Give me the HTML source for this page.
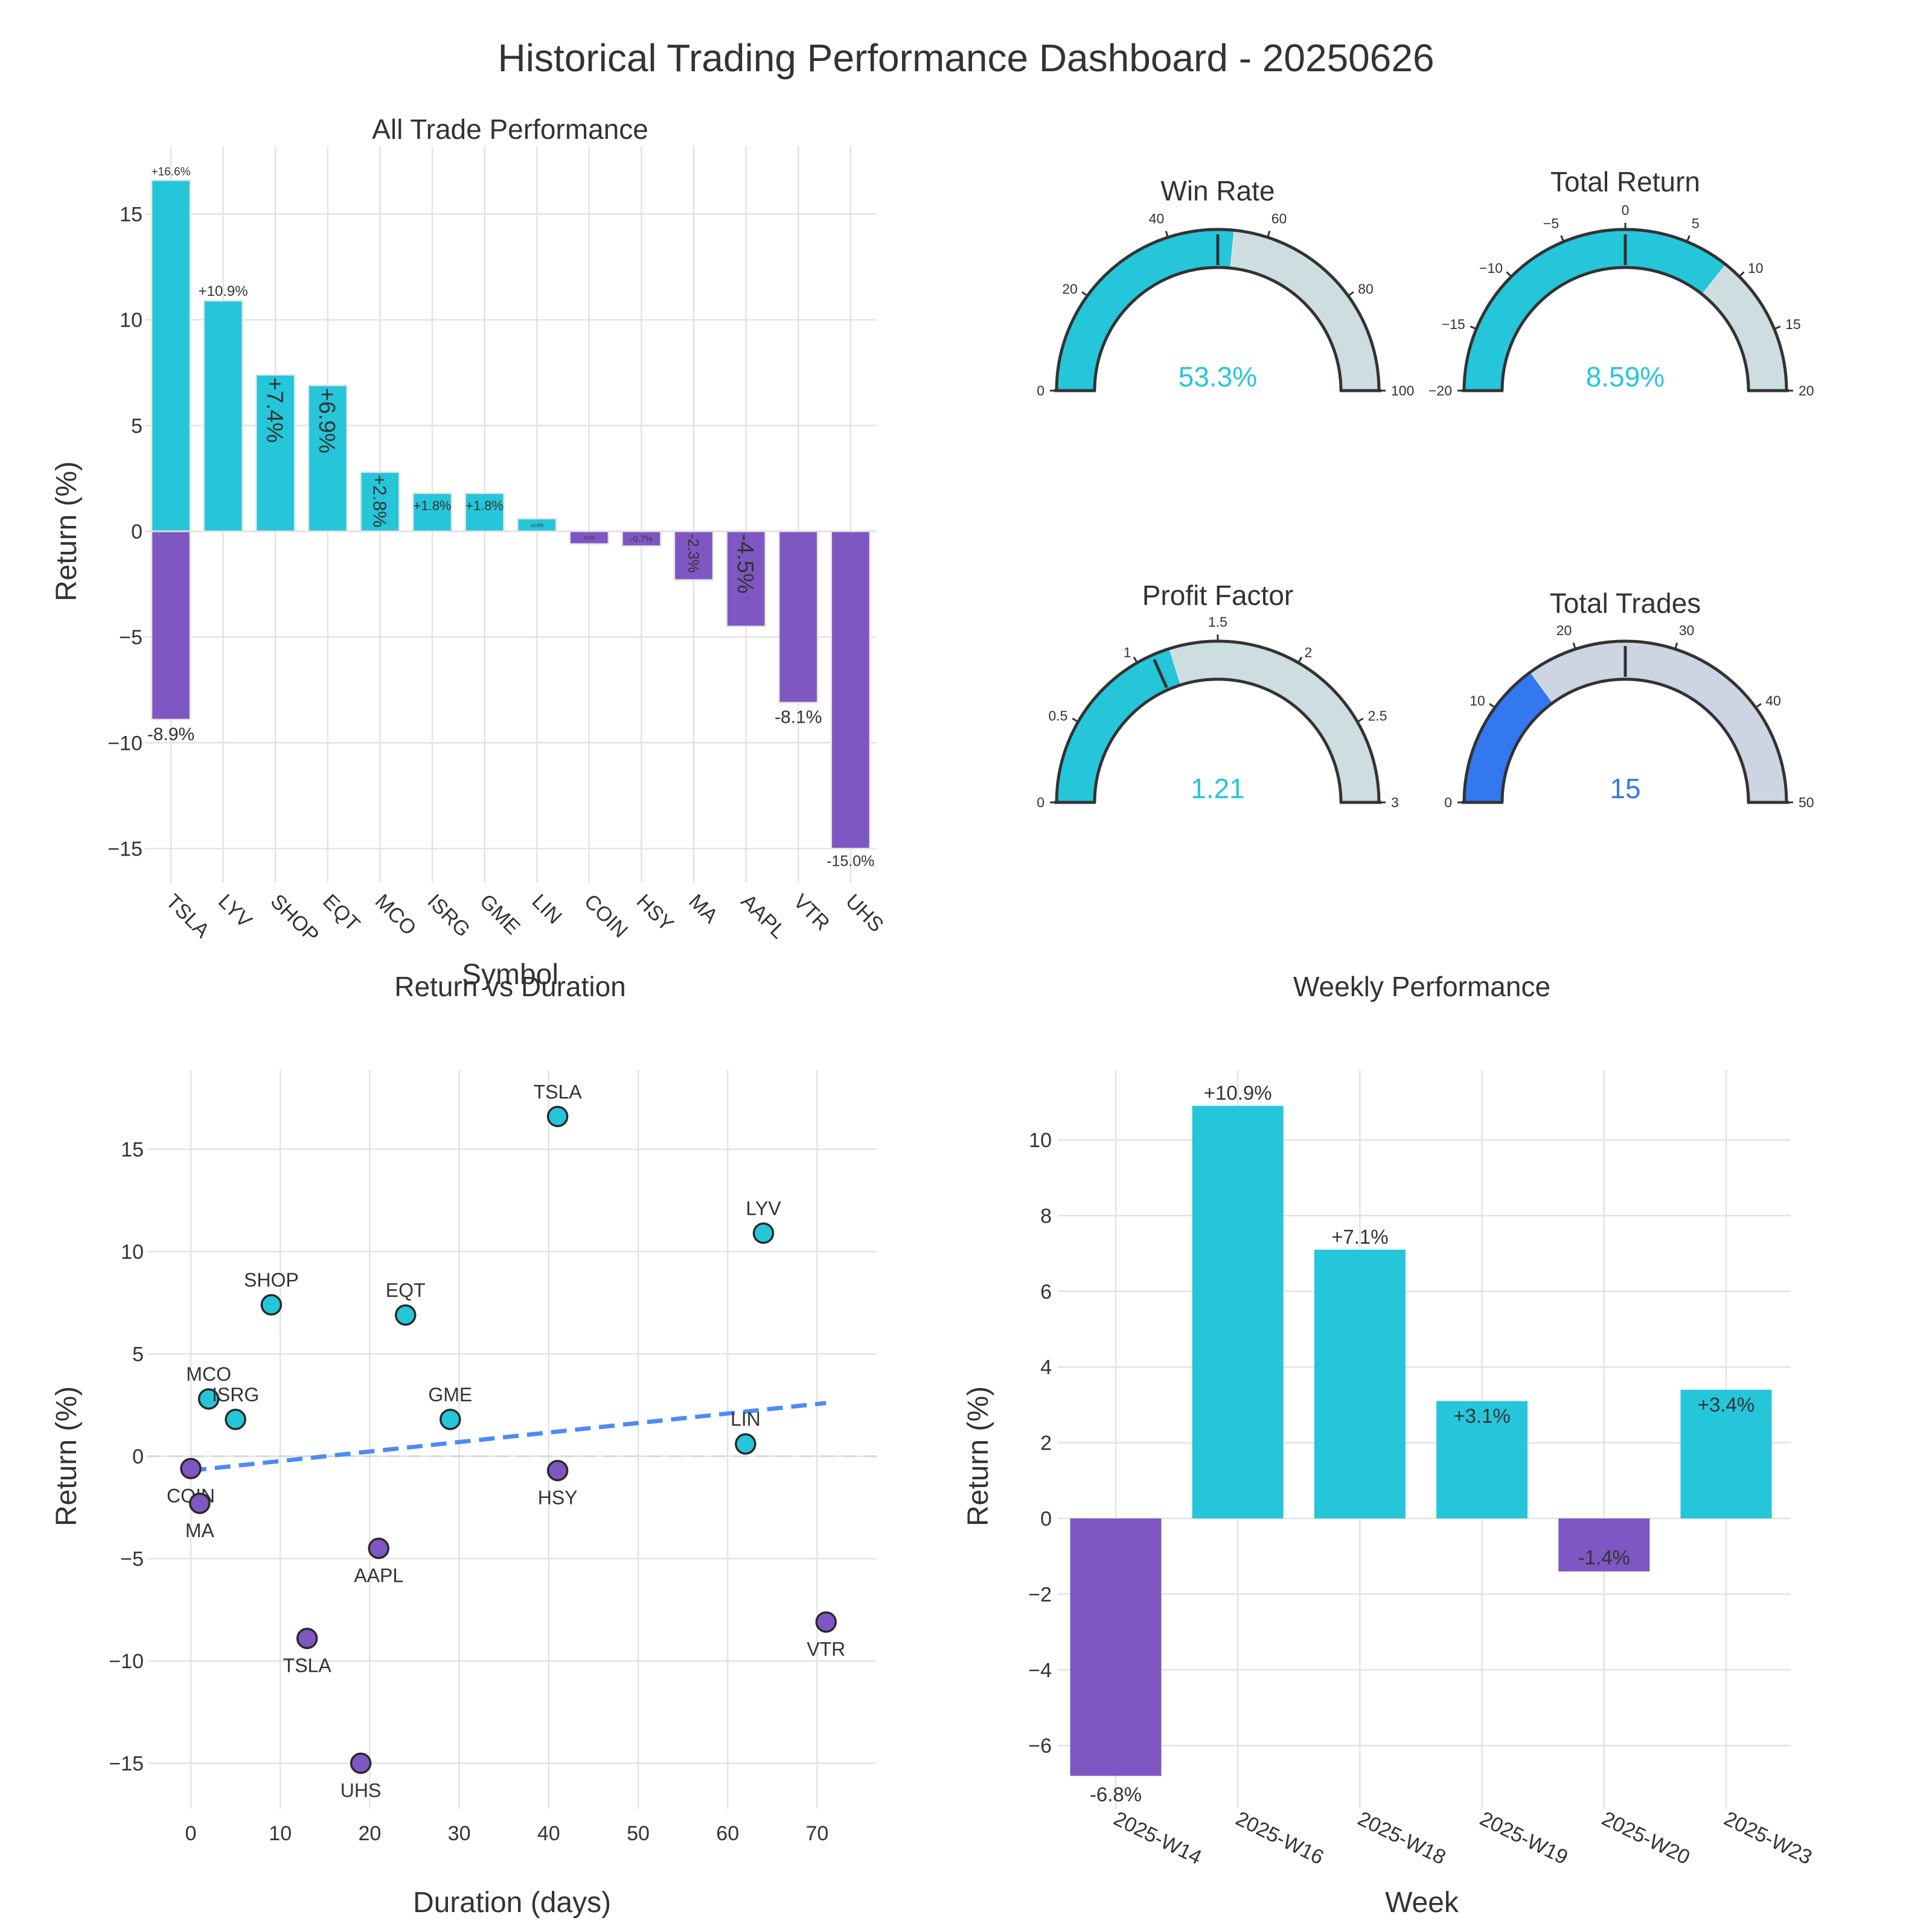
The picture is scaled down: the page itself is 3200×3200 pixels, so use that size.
<!DOCTYPE html>
<html><head><meta charset="utf-8">
<style>
html,body{margin:0;padding:0;background:#fff;}
svg{display:block;font-family:"Liberation Sans",Arial,sans-serif;}
</style></head>
<body>
<svg id="chart" width="3200" height="3200" viewBox="0 0 3200 3200" xmlns="http://www.w3.org/2000/svg">
<rect width="3200" height="3200" fill="#fff"/>
<text x="1600" y="118" text-anchor="middle" font-size="64" style="fill:#333">Historical Trading Performance Dashboard - 20250626</text>
</svg>
<script>
// ---- Data ----
const tradeSymbols = ["TSLA","TSLA","LYV","SHOP","EQT","MCO","ISRG","GME","LIN","COIN","HSY","MA","AAPL","VTR","UHS"];
const tradeReturns = [16.6,-8.9,10.9,7.4,6.9,2.8,1.8,1.8,0.6,-0.6,-0.7,-2.3,-4.5,-8.1,-15.0];
const tradeDurations = [41,13,64,9,24,2,5,29,62,0,41,1,21,71,19];
const barCategories = ["TSLA","LYV","SHOP","EQT","MCO","ISRG","GME","LIN","COIN","HSY","MA","AAPL","VTR","UHS"];
const barTicks = [-15,-10,-5,0,5,10,15];
const scatterXTicks = [0,10,20,30,40,50,60,70];
const scatterYTicks = [-15,-10,-5,0,5,10,15];
const trendStart = [0,-0.7];
const trendEnd = [71,2.6];
const weeks = ["2025-W14","2025-W16","2025-W18","2025-W19","2025-W20","2025-W23"];
const weeklyReturns = [-6.8,10.9,7.1,3.1,-1.4,3.4];
const weeklyTicks = [-6,-4,-2,0,2,4,6,8,10];
const gaugeTitles = ["Win Rate","Total Return","Profit Factor","Total Trades"];
const gaugeValues = [53.3,8.59,1.21,15];
const gaugeMins = [0,-20,0,0];
const gaugeMaxs = [100,20,3,50];
const gaugeThresholds = [50,0,1.1,25];
const gaugeTickLabels = [["0","20","40","60","80","100"],["-20","-15","-10","-5","0","5","10","15","20"],["0","0.5","1","1.5","2","2.5","3"],["0","10","20","30","40","50"]];
const gaugeValueText = ["53.3%","8.59%","1.21","15"];

const CYAN="#26C6DA", PURPLE="#7E57C2", GRID="#e3e3e3", TXT="#333";
const TICK=34, AXT=48, SUBT=46;
const svg=document.getElementById('chart');
const NS="http://www.w3.org/2000/svg";
function mk(tag,attrs,parent){const e=document.createElementNS(NS,tag);for(const k in attrs)e.setAttribute(k,attrs[k]);(parent||svg).appendChild(e);return e;}
function txt(s,attrs,parent){const e=mk('text',attrs,parent);e.textContent=s;return e;}

// ---------- Panel 1: All Trade Performance ----------
(function(){
  const g=mk('g',{});
  
  
  const L=240,R=1452,T=242,B=1462;
  const xc=i=>283+86.6*i;
  const y=v=>880-35.03*v;
  barTicks.forEach(t=>{
    const l=mk('line',{x1:L,x2:R,y1:y(t),y2:y(t),stroke:GRID,'stroke-width':2.5},g);
    
    
    const tl=txt(t<0?'\u2212'+(-t):String(t),{x:L-4,y:y(t)+12,'text-anchor':'end','font-size':TICK,fill:TXT},g);
    
    
  });
  barCategories.forEach((c,i)=>{
    const l=mk('line',{x1:xc(i),x2:xc(i),y1:T,y2:B,stroke:GRID,'stroke-width':2.5},g);
    
    
    const t=txt(c,{x:0,y:0,'font-size':TICK,fill:TXT,transform:`translate(${xc(i)-10},${1495}) rotate(45)`},g);
    
    
  });
  const bw=64;
  tradeReturns.forEach((v,k)=>{
    const i=barCategories.indexOf(tradeSymbols[k]);
    const x0=xc(i)-bw/2, yt=Math.min(y(v),y(0)), h=Math.abs(y(v)-y(0));
    const r=mk('rect',{x:x0,y:yt,width:bw,height:h,fill:v>=0?CYAN:PURPLE,stroke:'#e6e6e6','stroke-width':2.5},g);
    
    
    const lab=(v>=0?'+':'')+v.toFixed(1)+'%';
    const a=Math.abs(v);
    let t;
    if(a>=8){
      const fs=v>0?(a>15?19:24):(a>12?25:30);
      t=txt(lab,{x:xc(i),y:v>0?y(v)-8:y(v)+fs+4,'text-anchor':'middle','font-size':fs,fill:TXT},g);
    } else if(a>=2.2){
      const fs=Math.min(38,(h-6)/3.0);
      t=txt(lab,{x:0,y:0,'font-size':fs,fill:TXT,transform:`translate(${xc(i)-fs*0.36},${yt+4}) rotate(90)`},g);
    } else {
      const fs=a>1.5?22:(a>0.65?14:8);
      t=txt(lab,{x:xc(i),y:v>0?yt+fs+6:yt+h*0.5+fs*0.35,'text-anchor':'middle','font-size':fs,fill:TXT},g);
    }
    
    
  });
  const zl=mk('line',{x1:L,x2:R,y1:y(0),y2:y(0),stroke:'#e0e0e0','stroke-width':2.5},g);
  
  
  const ti=txt('All Trade Performance',{x:845,y:230,'text-anchor':'middle','font-size':SUBT,fill:TXT},g);
  
  
  const yl=txt('Return (%)',{x:0,y:0,'text-anchor':'middle','font-size':AXT,fill:TXT,transform:`translate(126,880) rotate(-90)`},g);
  
  
  const xl=txt('Symbol',{x:845,y:1630,'text-anchor':'middle','font-size':AXT,fill:TXT},g);
  
  
})();

// ---------- Gauges ----------
(function(){
  const centers=[[2017,647],[2692,647],[2017,1329],[2692,1329]];
  const titleY=[332,317,1002,1015];
  const RO=267, RI=204;
  centers.forEach(([cx,cy],n)=>{
    const g=mk('g',{});
    
    
    const mn=gaugeMins[n], mx=gaugeMaxs[n];
    const ang=v=>Math.PI*(1-(v-mn)/(mx-mn));
    const pt=(r,a)=>[cx+r*Math.cos(a),cy-r*Math.sin(a)];
    function band(v0,v1,fill){
      const a0=ang(v0),a1=ang(v1);
      const p1=pt(RO,a0),p2=pt(RO,a1),p3=pt(RI,a1),p4=pt(RI,a0);
      return mk('path',{d:`M${p1} A${RO},${RO} 0 0 1 ${p2} L${p3} A${RI},${RI} 0 0 0 ${p4} Z`,fill:fill},g);
    }
    const barCol=n===3?'#3478F0':CYAN, bgCol=n===3?'#CDD5E2':'#CDDDE0';
    const bg=band(mn,mx,bgCol);
    
    
    const bar=band(mn,gaugeValues[n],barCol);
    
    
    bar.setAttribute('stroke','#e0e0e0');bar.setAttribute('stroke-width','2');
    const o=mk('path',{d:`M${cx-RO},${cy} A${RO},${RO} 0 0 1 ${cx+RO},${cy} M${cx-RI},${cy} A${RI},${RI} 0 0 1 ${cx+RI},${cy} M${cx-RO-4},${cy} L${cx-RI+2},${cy} M${cx+RI-2},${cy} L${cx+RO+4},${cy}`,fill:'none',stroke:'#333','stroke-width':5},g);
    
    
    const th=gaugeThresholds[n], ta=ang(th);
    const q1=pt(RI+4,ta),q2=pt(RO-8,ta);
    const tl=mk('line',{x1:q1[0],y1:q1[1],x2:q2[0],y2:q2[1],stroke:'#333','stroke-width':5},g);
    
    
    gaugeTickLabels[n].forEach(s=>{
      const v=parseFloat(s), a=ang(v);
      const k1=pt(RO,a),k2=pt(RO+11,a);
      const tk=mk('line',{x1:k1[0],y1:k1[1],x2:k2[0],y2:k2[1],stroke:'#333','stroke-width':3},g);
      
      
      const lp=pt(RO+20,a);
      const c=Math.cos(a);
      const anchor=Math.abs(c)<0.2?'middle':(c<0?'end':'start');
      const t=txt(s.replace('-','\u2212'),{x:lp[0],y:lp[1]+(Math.sin(a)>0.9?-4:8),'text-anchor':anchor,'font-size':23,fill:TXT},g);
      
      
    });
    const vt=txt(gaugeValueText[n],{x:cx,y:cy-7,'text-anchor':'middle','font-size':46,fill:barCol},g);
    
    
    const tt=txt(gaugeTitles[n],{x:cx,y:titleY[n],'text-anchor':'middle','font-size':46,fill:TXT},g);
    
    
  });
})();

// ---------- Scatter ----------
(function(){
  const g=mk('g',{});
  
  
  const L=244,R=1452,T=1772,B=2996;
  const x=d=>316+14.82*d;
  const y=v=>2412-33.9*v;
  scatterYTicks.forEach(t=>{
    const l=mk('line',{x1:L,x2:R,y1:y(t),y2:y(t),stroke:GRID,'stroke-width':2.5},g);
    
    
    const tl=txt(t<0?'\u2212'+(-t):String(t),{x:L-6,y:y(t)+12,'text-anchor':'end','font-size':TICK,fill:TXT},g);
    
    
  });
  scatterXTicks.forEach(t=>{
    const l=mk('line',{x1:x(t),x2:x(t),y1:T,y2:B,stroke:GRID,'stroke-width':2.5},g);
    
    
    const tl=txt(String(t),{x:x(t),y:3048,'text-anchor':'middle','font-size':TICK,fill:TXT},g);
    
    
  });
  const zl=mk('line',{x1:L,x2:R,y1:y(0),y2:y(0),stroke:'#d6d6d6','stroke-width':3,'stroke-dasharray':'22,14'},g);
  
  
  const tr=mk('line',{x1:x(trendStart[0]),y1:y(trendStart[1]),x2:x(trendEnd[0]),y2:y(trendEnd[1]),stroke:'#4C8BF5','stroke-width':7,'stroke-dasharray':'26,14'},g);
  
  
  tradeReturns.forEach((v,k)=>{
    const d=tradeDurations[k];
    const c=mk('circle',{cx:x(d),cy:y(v),r:16,fill:v>=0?CYAN:PURPLE,stroke:'#2a2a2a','stroke-width':3.5},g);
    
    
    const t=txt(tradeSymbols[k],{x:x(d),y:v>=0?y(v)-30:y(v)+56,'text-anchor':'middle','font-size':32,fill:TXT},g);
    
    
  });
  const ti=txt('Return vs Duration',{x:845,y:1650,'text-anchor':'middle','font-size':SUBT,fill:TXT},g);
  
  
  const yl=txt('Return (%)',{x:0,y:0,'text-anchor':'middle','font-size':AXT,fill:TXT,transform:`translate(126,2412) rotate(-90)`},g);
  
  
  const xl=txt('Duration (days)',{x:848,y:3167,'text-anchor':'middle','font-size':AXT,fill:TXT},g);
  
  
})();

// ---------- Weekly ----------
(function(){
  const g=mk('g',{});
  
  
  const L=1752,R=2966,T=1772,B=2996;
  const xc=i=>1848+202.2*i;
  const y=v=>2515-62.7*v;
  weeklyTicks.forEach(t=>{
    const l=mk('line',{x1:L,x2:R,y1:y(t),y2:y(t),stroke:GRID,'stroke-width':2.5},g);
    
    
    const tl=txt(t<0?'\u2212'+(-t):String(t),{x:1742,y:y(t)+12,'text-anchor':'end','font-size':TICK,fill:TXT},g);
    
    
  });
  weeks.forEach((w,i)=>{
    const l=mk('line',{x1:xc(i),x2:xc(i),y1:T,y2:B,stroke:GRID,'stroke-width':2.5},g);
    
    
    const t=txt(w,{x:0,y:0,'font-size':TICK,fill:TXT,transform:`translate(${xc(i)-6},${3020}) rotate(26)`},g);
    
    
  });
  const bw=151;
  weeklyReturns.forEach((v,i)=>{
    const yt=Math.min(y(v),y(0)), h=Math.abs(y(v)-y(0));
    const r=mk('rect',{x:xc(i)-bw/2,y:yt,width:bw,height:h,fill:v>=0?CYAN:PURPLE},g);
    
    
    const lab=(v>=0?'+':'')+v.toFixed(1)+'%';
    let ly;
    if(v>=5) ly=y(v)-10;
    else if(v>=0) ly=y(v)+36;
    else if(v>-3) ly=y(v)-12;
    else ly=y(v)+42;
    const t=txt(lab,{x:xc(i),y:ly,'text-anchor':'middle','font-size':33,fill:TXT},g);
    
    
  });
  const ti=txt('Weekly Performance',{x:2355,y:1650,'text-anchor':'middle','font-size':SUBT,fill:TXT},g);
  
  
  const yl=txt('Return (%)',{x:0,y:0,'text-anchor':'middle','font-size':AXT,fill:TXT,transform:`translate(1636,2412) rotate(-90)`},g);
  
  
  const xl=txt('Week',{x:2355,y:3167,'text-anchor':'middle','font-size':AXT,fill:TXT},g);
  
  
})();
</script>
</body></html>
